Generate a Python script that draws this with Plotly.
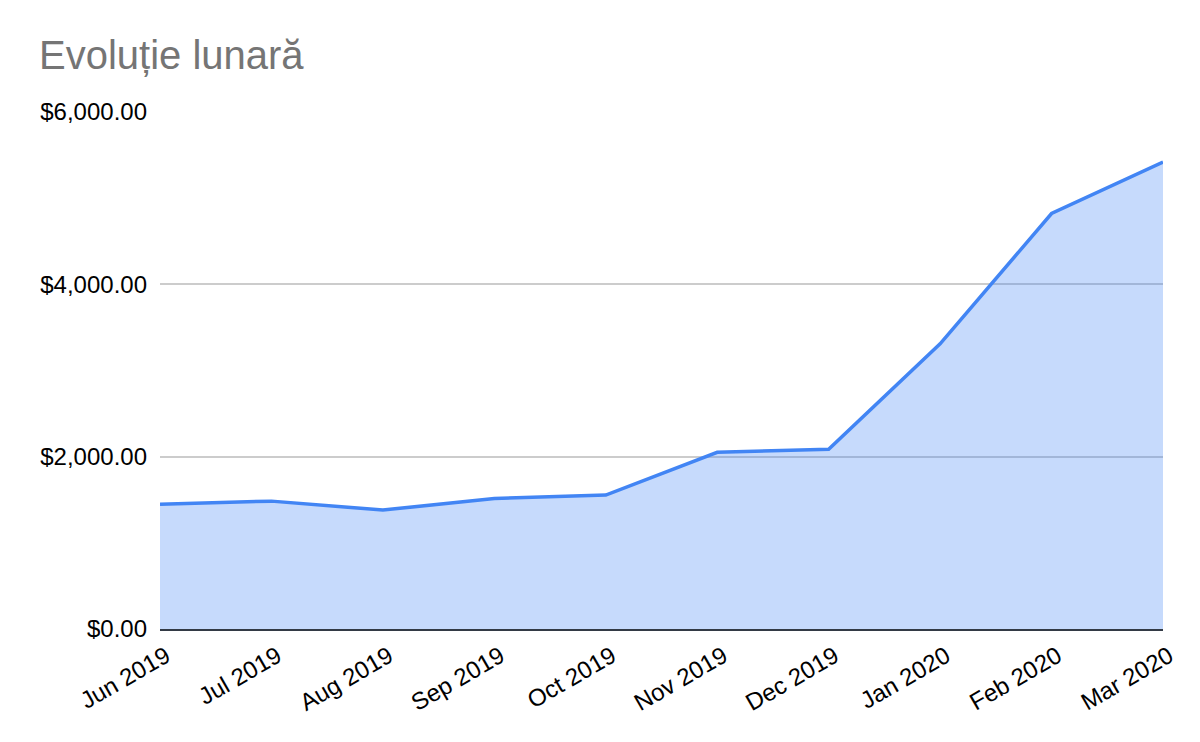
import plotly.graph_objects as go

months = ["Jun 2019", "Jul 2019", "Aug 2019", "Sep 2019", "Oct 2019",
          "Nov 2019", "Dec 2019", "Jan 2020", "Feb 2020", "Mar 2020"]
values = [1449, 1484, 1380, 1515, 1554, 2051, 2086, 3310, 4822, 5419]
y_ticks = [0, 2000, 4000, 6000]
title_text = "Evoluție lunară"

W, H = 1192, 734

fig = go.Figure()
fig.add_trace(go.Scatter(
    x=months, y=values, mode="lines", fill="tozeroy",
    line=dict(color="#4285F4", width=3.5),
    fillcolor="rgba(66,133,244,0.3)",
    hoverinfo="x+y",
))

fig.update_layout(
    width=W, height=H,
    paper_bgcolor="white", plot_bgcolor="white",
    margin=dict(l=152, r=37, t=104, b=113),
    showlegend=False,
    font=dict(family="Liberation Sans, Arial, sans-serif", color="#000000"),
    title=dict(text=title_text, x=31/W, xref="container", xanchor="left",
               y=1 - 47/H, yref="container", yanchor="middle",
               font=dict(size=40, color="#757575",
                         family="Liberation Sans, Arial, sans-serif")),
)
fig.update_xaxes(
    type="category", range=[0, len(months) - 1],
    showgrid=False, tickangle=-30, tickfont=dict(size=24, color="#000000"),
    showline=True, linecolor="#333a45", linewidth=2,
    ticks="", zeroline=False, ticklabelshift=6, ticklabelstandoff=2,
)
fig.update_yaxes(
    range=[0, 6000], tickvals=y_ticks, tickformat="$,.2f",
    showgrid=True, gridcolor="#cccccc", gridwidth=1.5,
    zeroline=False, tickfont=dict(size=24, color="#000000"),
    ticklabelstandoff=12,
)

fig.write_html("out.html")
